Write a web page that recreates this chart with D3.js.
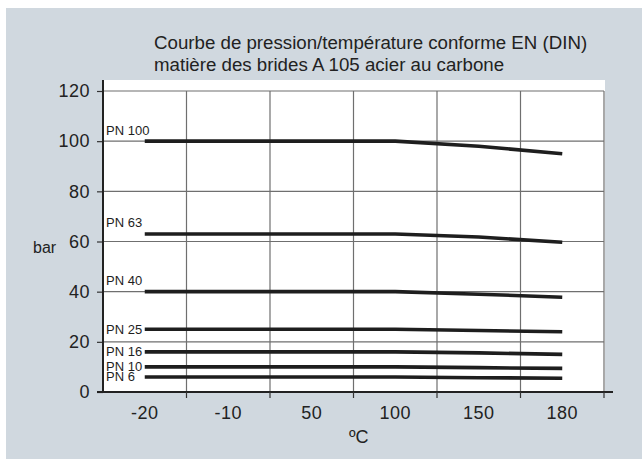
<!DOCTYPE html>
<html>
<head>
<meta charset="utf-8">
<script src="https://cdn.jsdelivr.net/npm/d3@7"></script>
<style>
  html, body { margin: 0; padding: 0; background: #ffffff; }
  svg { display: block; font-family: "Liberation Sans", Arial, Helvetica, sans-serif; }
</style>
</head>
<body>
<svg id="chart" width="642" height="459"></svg>
<script>
// ---- data ----
const categories = ["-20", "-10", "50", "100", "150", "180"];
const seriesNames = ["PN 100", "PN 63", "PN 40", "PN 25", "PN 16", "PN 10", "PN 6"];
const pn100 = [100, 100, 100, 100, 98, 95];
const pn63  = [63, 63, 63, 63, 61.8, 59.7];
const pn40  = [40, 40, 40, 40, 39, 37.8];
const pn25  = [25, 25, 25, 25, 24.5, 24];
const pn16  = [16, 16, 16, 16, 15.6, 15];
const pn10  = [10, 10, 10, 10, 9.7, 9.4];
const pn6   = [6, 6, 6, 6, 5.7, 5.5];
const yTicks = [0, 20, 40, 60, 80, 100, 120];
const titleLines = ["Courbe de pression/température conforme EN (DIN)", "matière des brides A 105 acier au carbone"];
const yLabel = "bar";
const xLabel = "ºC";

const seriesValues = [pn100, pn63, pn40, pn25, pn16, pn10, pn6];

// ---- layout ----
const svg = d3.select("#chart");
const L = 103, R = 604, T = 91, B = 392;

svg.append("rect").attr("x", 6).attr("y", 8).attr("width", 636).attr("height", 451).attr("fill", "#d0d8df");
svg.append("rect").attr("x", L).attr("y", 80).attr("width", R - L + 1).attr("height", B - 80).attr("fill", "#ffffff");

const x = d3.scaleBand().domain(categories).range([L, R]).padding(0);
const y = d3.scaleLinear().domain([0, 120]).range([B, T]);

// horizontal grid
svg.append("g").selectAll("line").data(yTicks.filter(d => d > 0)).join("line")
  .attr("x1", L).attr("x2", R).attr("y1", d => y(d)).attr("y2", d => y(d))
  .attr("stroke", "#6f6f6f").attr("stroke-width", 1.2);

// vertical grid (band boundaries)
const bounds = categories.slice(1).map(c => x(c)).concat([R]);
svg.append("g").selectAll("line").data(bounds).join("line")
  .attr("x1", d => d).attr("x2", d => d).attr("y1", T).attr("y2", B)
  .attr("stroke", "#6f6f6f").attr("stroke-width", 1.2);

// y axis
const yAxis = d3.axisLeft(y).tickValues(yTicks).tickSize(6).tickPadding(7);
const gy = svg.append("g").attr("transform", `translate(${L},0)`).call(yAxis);
gy.select(".domain").remove();
gy.selectAll(".tick line").attr("stroke", "#333").attr("stroke-width", 1.2);
gy.selectAll(".tick text").attr("font-size", 18).attr("fill", "#222")
  .attr("font-family", "Liberation Sans, Arial, sans-serif").attr("letter-spacing", 0.5);
svg.append("line").attr("x1", L).attr("x2", L).attr("y1", 80).attr("y2", B + 1)
  .attr("stroke", "#222").attr("stroke-width", 2);

// x axis
const xAxis = d3.axisBottom(x).tickSize(0).tickPadding(14);
const gx = svg.append("g").attr("transform", `translate(0,${B})`).call(xAxis);
gx.select(".domain").remove();
gx.selectAll(".tick text").attr("font-size", 18).attr("fill", "#222")
  .attr("font-family", "Liberation Sans, Arial, sans-serif").attr("letter-spacing", 0.5);
svg.append("line").attr("x1", L - 6).attr("x2", R + 9).attr("y1", B).attr("y2", B)
  .attr("stroke", "#222").attr("stroke-width", 2);
svg.append("g").selectAll("line").data(bounds).join("line")
  .attr("x1", d => d).attr("x2", d => d).attr("y1", B).attr("y2", B + 6)
  .attr("stroke", "#333").attr("stroke-width", 1.2);

// series lines
const line = d3.line().x((d, i) => x(categories[i]) + x.bandwidth() / 2).y(d => y(d));
svg.append("g").selectAll("path").data(seriesValues).join("path")
  .attr("d", d => line(d)).attr("fill", "none")
  .attr("stroke", "#1e1e1e").attr("stroke-width", 3.6);

// series labels
svg.append("g").selectAll("text").data(seriesNames).join("text")
  .attr("x", L + 3)
  .attr("y", (d, i) => seriesValues[i][0] >= 40 ? y(seriesValues[i][0]) - 6.5 : y(seriesValues[i][0]) + 4.5)
  .attr("font-size", 13).attr("fill", "#1e1e1e")
  .text(d => d);

// title
svg.append("g").selectAll("text").data(titleLines).join("text")
  .attr("x", 154).attr("y", (d, i) => 49 + i * 22)
  .attr("font-size", 18.7).attr("fill", "#222")
  .text(d => d);

// axis labels
svg.append("text").attr("x", 33).attr("y", 253).attr("font-size", 16).attr("fill", "#222").text(yLabel);
svg.append("text").attr("x", 349).attr("y", 443).attr("font-size", 18).attr("fill", "#222").text(xLabel);
</script>
</body>
</html>
